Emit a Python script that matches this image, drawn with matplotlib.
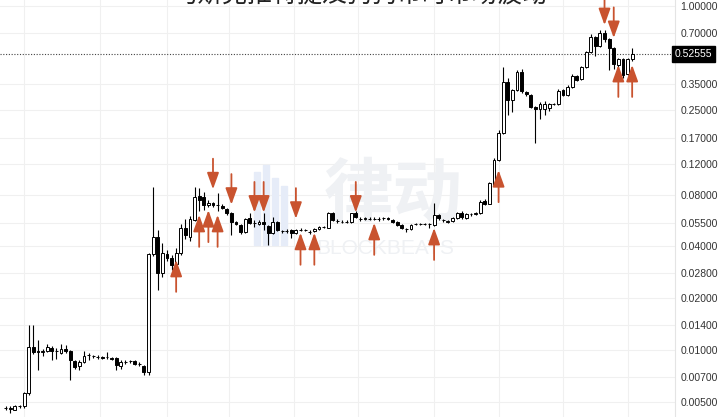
import numpy as np
import matplotlib.pyplot as plt
from matplotlib.patches import Rectangle
from matplotlib.ticker import FixedLocator, NullLocator, FixedFormatter

plt.rcParams['font.family'] = ['Liberation Sans', 'DejaVu Sans']

title = "马斯克推特提及狗狗币时市场波动"

# OHLC, one row per candle (price in USD, log scale)
opens = [0.00462, 0.00455, 0.0045, 0.0047, 0.0047, 0.0056, 0.0104, 0.0098, 0.0097, 0.0098,
         0.0103, 0.0099, 0.0096, 0.0102, 0.0098, 0.0086, 0.0081, 0.0085, 0.0093, 0.0092,
         0.0091, 0.0091, 0.0091, 0.0090, 0.0090, 0.0081, 0.0085, 0.0086, 0.0086, 0.0083,
         0.0081, 0.0074, 0.0361, 0.0454, 0.0280, 0.0361, 0.0343, 0.0318, 0.0365, 0.0512,
         0.0454, 0.0570, 0.0785, 0.0775, 0.0697, 0.0716, 0.0697, 0.0690, 0.0660, 0.0626,
         0.0555, 0.0533, 0.0485, 0.0585, 0.0548, 0.0540, 0.0552, 0.0526, 0.0479, 0.0555,
         0.0492, 0.0490, 0.0498, 0.0480, 0.0498, 0.0498, 0.0488, 0.0490, 0.0505, 0.0518,
         0.0512, 0.0626, 0.0565, 0.0558, 0.0557, 0.0555, 0.0626, 0.0580, 0.0577, 0.0580,
         0.0580, 0.0580, 0.0585, 0.0582, 0.0570, 0.0555, 0.0533, 0.0505, 0.0505, 0.0540,
         0.0540, 0.0540, 0.0538, 0.0533, 0.0609, 0.0570, 0.0552, 0.0562, 0.0585, 0.0630,
         0.0585, 0.0617, 0.0618, 0.0626, 0.0735, 0.0710, 0.0910, 0.1270, 0.1830, 0.3620,
         0.2840, 0.3250, 0.4130, 0.3160, 0.3040, 0.2590, 0.2520, 0.2520, 0.2550, 0.2690,
         0.2700, 0.3250, 0.3050, 0.3380, 0.3920, 0.3760, 0.4420, 0.5400, 0.6600, 0.5850,
         0.6970, 0.6430, 0.5700, 0.4540, 0.4920, 0.4020, 0.4920]
highs = [0.0047, 0.0047, 0.0048, 0.0048, 0.0057, 0.0140, 0.0139, 0.0114, 0.0101, 0.0108,
         0.0106, 0.0103, 0.0108, 0.0107, 0.0100, 0.0087, 0.0087, 0.0099, 0.0096, 0.0094,
         0.0093, 0.0092, 0.0097, 0.0091, 0.0091, 0.0088, 0.0087, 0.0088, 0.0087, 0.0085,
         0.0082, 0.0365, 0.0886, 0.0500, 0.0420, 0.0380, 0.0355, 0.0390, 0.0540, 0.0580,
         0.0600, 0.0890, 0.0880, 0.0830, 0.0740, 0.0730, 0.0820, 0.0706, 0.0670, 0.0635,
         0.0565, 0.0540, 0.0585, 0.0630, 0.0570, 0.0570, 0.0625, 0.0535, 0.0590, 0.0560,
         0.0500, 0.0502, 0.0505, 0.0505, 0.0515, 0.0508, 0.0498, 0.0510, 0.0525, 0.0525,
         0.0635, 0.0635, 0.0580, 0.0570, 0.0570, 0.0630, 0.0640, 0.0590, 0.0590, 0.0595,
         0.0590, 0.0590, 0.0595, 0.0590, 0.0575, 0.0560, 0.0540, 0.0515, 0.0540, 0.0550,
         0.0550, 0.0550, 0.0548, 0.0716, 0.0620, 0.0580, 0.0570, 0.0595, 0.0635, 0.0640,
         0.0625, 0.0630, 0.0635, 0.0740, 0.0750, 0.0950, 0.1300, 0.1900, 0.4420, 0.3800,
         0.3300, 0.4250, 0.4300, 0.3200, 0.3060, 0.2620, 0.2750, 0.2790, 0.2720, 0.2720,
         0.3300, 0.3300, 0.3450, 0.4000, 0.3950, 0.4500, 0.5500, 0.6900, 0.6700, 0.7300,
         0.7300, 0.6500, 0.5750, 0.5000, 0.5000, 0.5000, 0.5700]
lows = [0.0045, 0.0043, 0.0045, 0.0046, 0.0046, 0.0055, 0.0095, 0.0076, 0.0092, 0.0097,
        0.0088, 0.0089, 0.0095, 0.0096, 0.0067, 0.0078, 0.0077, 0.0084, 0.0088, 0.0090,
        0.0089, 0.0089, 0.0089, 0.0087, 0.0077, 0.0078, 0.0083, 0.0084, 0.0082, 0.0081,
        0.0072, 0.0072, 0.0350, 0.0223, 0.0265, 0.0330, 0.0290, 0.0300, 0.0355, 0.0440,
        0.0430, 0.0560, 0.0640, 0.0650, 0.0680, 0.0680, 0.0640, 0.0660, 0.0610, 0.0466,
        0.0530, 0.0470, 0.0480, 0.0540, 0.0520, 0.0530, 0.0500, 0.0408, 0.0470, 0.0490,
        0.0480, 0.0482, 0.0445, 0.0475, 0.0490, 0.0490, 0.0475, 0.0485, 0.0500, 0.0510,
        0.0510, 0.0560, 0.0550, 0.0548, 0.0550, 0.0550, 0.0585, 0.0560, 0.0570, 0.0570,
        0.0570, 0.0565, 0.0570, 0.0570, 0.0550, 0.0525, 0.0505, 0.0485, 0.0500, 0.0530,
        0.0530, 0.0530, 0.0512, 0.0525, 0.0570, 0.0555, 0.0550, 0.0555, 0.0575, 0.0580,
        0.0575, 0.0600, 0.0610, 0.0620, 0.0700, 0.0705, 0.0900, 0.1250, 0.1800, 0.2320,
        0.2420, 0.3200, 0.3100, 0.3000, 0.2550, 0.1600, 0.2200, 0.2320, 0.2450, 0.2640,
        0.2650, 0.3000, 0.3000, 0.3350, 0.3650, 0.3700, 0.4350, 0.5300, 0.5150, 0.5750,
        0.6200, 0.4250, 0.4300, 0.4400, 0.3800, 0.3950, 0.4800]
closes = [0.00458, 0.00458, 0.0047, 0.0047, 0.0056, 0.0104, 0.0097, 0.0097, 0.0098, 0.0104,
          0.0098, 0.0099, 0.0101, 0.0098, 0.0088, 0.0080, 0.0085, 0.0092, 0.0093, 0.0092,
          0.0091, 0.0090, 0.0091, 0.0089, 0.0082, 0.0085, 0.0085, 0.0086, 0.0083, 0.0083,
          0.0074, 0.0361, 0.0454, 0.0280, 0.0366, 0.0343, 0.0312, 0.0365, 0.0512, 0.0466,
          0.0580, 0.0775, 0.0745, 0.0697, 0.0716, 0.0697, 0.0697, 0.0672, 0.0626, 0.0555,
          0.0540, 0.0485, 0.0578, 0.0548, 0.0548, 0.0555, 0.0538, 0.0479, 0.0555, 0.0498,
          0.0492, 0.0492, 0.0480, 0.0498, 0.0498, 0.0496, 0.0486, 0.0503, 0.0518, 0.0518,
          0.0626, 0.0570, 0.0562, 0.0558, 0.0558, 0.0626, 0.0595, 0.0580, 0.0585, 0.0580,
          0.0580, 0.0578, 0.0585, 0.0580, 0.0555, 0.0533, 0.0512, 0.0505, 0.0533, 0.0540,
          0.0540, 0.0538, 0.0538, 0.0609, 0.0585, 0.0570, 0.0560, 0.0585, 0.0626, 0.0595,
          0.0617, 0.0617, 0.0628, 0.0726, 0.0710, 0.0935, 0.1270, 0.1830, 0.3620, 0.2840,
          0.3250, 0.4130, 0.3200, 0.3080, 0.2590, 0.2520, 0.2690, 0.2710, 0.2690, 0.2690,
          0.3200, 0.3040, 0.3380, 0.3920, 0.3700, 0.4420, 0.5400, 0.6600, 0.5850, 0.6970,
          0.6430, 0.5700, 0.4600, 0.4920, 0.3970, 0.4920, 0.52555]

# arrows: (candle index, price at arrow tip)
down_arrows = [(45, 0.086), (49, 0.070), (54, 0.063), (56, 0.063), (63, 0.058),
               (76, 0.063), (130, 0.775), (132, 0.652)]
up_arrows = [(37, 0.0334), (42, 0.061), (44, 0.065), (46, 0.061), (64, 0.048),
             (67, 0.048), (80, 0.0548), (93, 0.0512), (107, 0.111), (133, 0.454), (136, 0.454)]

yticks = [0.005, 0.007, 0.01, 0.014, 0.02, 0.028, 0.04, 0.055, 0.08,
          0.12, 0.17, 0.25, 0.35, 0.7, 1.0]
xgrid = [4, 20.5, 35, 48.5, 62.5, 76.5, 93, 107, 121, 135]
last_price = 0.52555

opens = np.array(opens); highs = np.array(highs)
lows = np.array(lows); closes = np.array(closes)
x = np.arange(len(opens))

fig = plt.figure(figsize=(7.2, 4.17), dpi=100)
ax = fig.add_axes([0, 0, 675 / 720, 1])
ax.set_yscale('log')
ax.set_ylim(0.004077, 1.0837)
ax.set_xlim(-1.24, 145.3)

# watermark, kept under the candles
ft = fig.transFigure
ax.text(393 / 720, 1 - 196 / 417, "律动", transform=ft, family=['Noto Sans CJK SC'],
        fontsize=50, fontweight='bold', color='#eff1f4', ha='center', va='center', zorder=1)
ax.text(385 / 720, 1 - 248 / 417, "BLOCKBEATS", transform=ft, fontsize=15, color='#eff1f4',
        ha='center', va='center', zorder=1)
for bx, top in zip([254, 263, 272, 281], [172, 165, 178, 186]):
    ax.add_patch(Rectangle((bx / 720, 1 - 245 / 417), 6 / 720, (245 - top) / 417,
                           transform=ft, color='#e6ecf8', zorder=1))

# candles
up = closes >= opens
body_lo = np.minimum(opens, closes)
body_hi = np.maximum(opens, closes)
ax.vlines(x, lows, highs, color='black', lw=0.8, zorder=3)
ax.bar(x, body_hi - body_lo, bottom=body_lo, width=0.62,
       color=np.where(up, 'white', 'black'), edgecolor='black', linewidth=0.7, zorder=4)

# arrows
arrow_color = '#c9532f'
astyle = dict(arrowstyle='-|>,head_length=0.5,head_width=0.18', color=arrow_color,
              lw=1.3, mutation_scale=20, shrinkA=0, shrinkB=0)
for i, p in down_arrows:
    ax.annotate('', xy=(i, p), xytext=(0, 22), textcoords='offset points',
                arrowprops=astyle, zorder=5)
for i, p in up_arrows:
    ax.annotate('', xy=(i, p), xytext=(0, -23), textcoords='offset points',
                arrowprops=astyle, zorder=5)

# last price line and label
ax.axhline(last_price, color='#444444', lw=0.8, ls=(0, (1, 1.5)), zorder=2)
ax.text(1.0, last_price, f"{last_price:.5f}", transform=ax.get_yaxis_transform(),
        ha='left', va='center', fontsize=7.5, color='white', clip_on=False,
        bbox=dict(boxstyle='square,pad=0.25', fc='black', ec='black'))

# axes styling
ax.yaxis.tick_right()
ax.yaxis.set_major_locator(FixedLocator(yticks))
ax.yaxis.set_major_formatter(FixedFormatter([f"{t:.5f}" for t in yticks]))
ax.yaxis.set_minor_locator(NullLocator())
ax.tick_params(axis='y', length=0, pad=4, labelsize=7.5, labelcolor='#333333')
ax.set_xticks(xgrid)
ax.tick_params(axis='x', length=0, labelbottom=False)
ax.grid(True, color='#f0f0f0', lw=0.8, zorder=0)
ax.set_axisbelow(True)
for s in ['top', 'left', 'bottom']:
    ax.spines[s].set_visible(False)
ax.spines['right'].set_color('#e4e4e4')

fig.text(0.5, 1 + 5 / 417, title, family=['Noto Sans CJK SC'], fontsize=18,
         color='#222222', ha='center', va='center')

fig.savefig('out.png', dpi=100)
